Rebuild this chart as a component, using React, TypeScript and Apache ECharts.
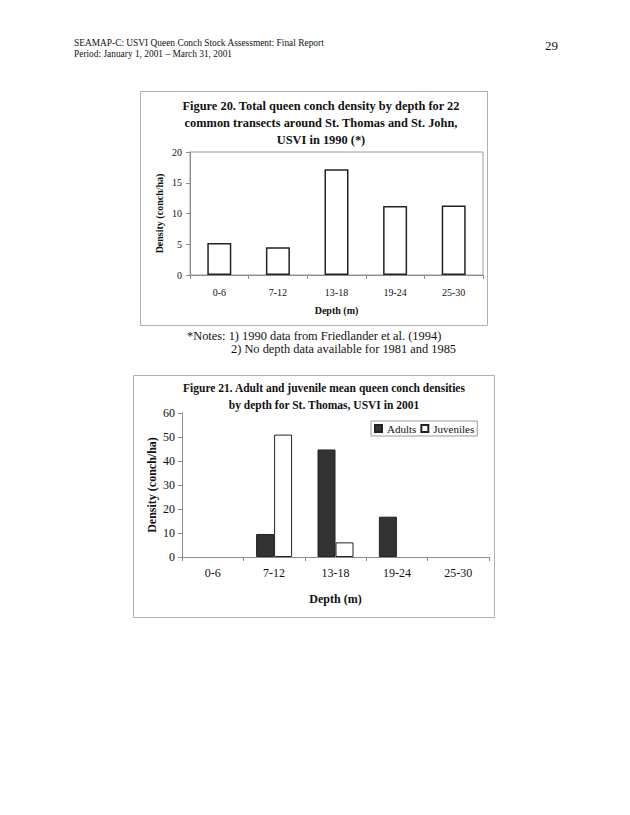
import React, { useEffect, useRef } from "react";
import * as echarts from "echarts";

const depthCategories = ["0-6", "7-12", "13-18", "19-24", "25-30"];
const totalDensity1990 = [5.2, 4.5, 17.2, 11.2, 11.3];
const adults2001 = [0, 9.6, 44.8, 16.8, 0];
const juveniles2001 = [0, 51, 6.1, 0, 0];
const fig20Ticks = { min: 0, max: 20, interval: 5 };
const fig21Ticks = { min: 0, max: 60, interval: 10 };

const headerLine1 = "SEAMAP-C: USVI Queen Conch Stock Assessment: Final Report";
const headerLine2 = "Period: January 1, 2001 \u2013 March 31, 2001";
const pageNumber = "29";
const fig20Title = "Figure 20. Total queen conch density by depth for 22\ncommon transects around St. Thomas and St. John,\nUSVI in 1990 (*)";
const fig21Title = "Figure 21. Adult and juvenile mean queen conch densities\nby depth for St. Thomas, USVI in 2001";
const note1 = "*Notes: 1) 1990 data from Friedlander et al. (1994)";
const note2 = "2) No depth data available for 1981 and 1985";

const SERIF = "'Liberation Serif', 'Times New Roman', serif";

// zero densities are drawn as no bar at all (as in the reference)
const asBars = (vals: number[]) => vals.map((v) => (v === 0 ? "-" : v));

export default function App() {
  const ref = useRef<HTMLDivElement>(null);
  useEffect(() => {
    if (!ref.current) return;
    const chart = echarts.init(ref.current, null, { renderer: "svg" });
    const axisLineColor = "#8c8c8c";
    const text = (t: string, x: number, y: number, size: number, bold = false, align = "left", lineHeight?: number) => ({
      type: "text",
      x,
      y,
      style: {
        text: t,
        font: `${bold ? "bold " : ""}${size}px ${SERIF}`,
        fill: "#111",
        textAlign: align,
        align,
        textVerticalAlign: "middle",
        verticalAlign: "middle",
        lineHeight: lineHeight ?? size + 2,
      },
      silent: true,
    });
    chart.setOption({
      animation: false,
      backgroundColor: "#ffffff",
      textStyle: { fontFamily: SERIF },
      graphic: [
        { type: "rect", shape: { x: 140.5, y: 91.5, width: 347, height: 234 }, style: { fill: "none", stroke: "#b0b0b0", lineWidth: 1 }, silent: true },
        { type: "rect", shape: { x: 133.5, y: 375.5, width: 361, height: 242 }, style: { fill: "none", stroke: "#b0b0b0", lineWidth: 1 }, silent: true },
        text(headerLine1, 74, 43, 9.4),
        text(headerLine2, 74, 54, 9.4),
        text(pageNumber, 545, 45, 13),
        text(note1, 187, 336, 12.4),
        text(note2, 231, 349, 12.4),
        text(fig20Title, 321, 123, 12.4, true, "center", 17),
        text(fig21Title, 324, 396.5, 11.5, true, "center", 17),
      ],
      legend: {
        show: true,
        data: ["Adults", "Juveniles"],
        left: 371,
        top: 421,
        orient: "horizontal",
        icon: "rect",
        itemWidth: 7,
        itemHeight: 7,
        itemGap: 4,
        padding: [2, 3, 2, 3],
        borderColor: "#9a9a9a",
        borderWidth: 1,
        textStyle: { fontFamily: SERIF, fontSize: 11, color: "#111" },
      },
      grid: [
        { left: 190, top: 152, width: 293, height: 123, show: true, borderColor: "#9a9a9a", borderWidth: 1, backgroundColor: "transparent" },
        { left: 182, top: 413, width: 307, height: 144 },
      ],
      xAxis: [
        {
          gridIndex: 0,
          type: "category",
          data: depthCategories,
          axisLine: { lineStyle: { color: axisLineColor } },
          axisTick: { show: true, alignWithLabel: false, length: 4, lineStyle: { color: axisLineColor } },
          axisLabel: { fontFamily: SERIF, fontSize: 10, color: "#111", margin: 12 },
          name: "Depth (m)",
          nameLocation: "middle",
          nameGap: 30,
          nameTextStyle: { fontFamily: SERIF, fontSize: 10, fontWeight: "bold", color: "#111" },
        },
        {
          gridIndex: 1,
          type: "category",
          data: depthCategories,
          axisLine: { lineStyle: { color: axisLineColor } },
          axisTick: { show: true, alignWithLabel: false, length: 4, lineStyle: { color: axisLineColor } },
          axisLabel: { fontFamily: SERIF, fontSize: 12, color: "#111", margin: 10 },
          name: "Depth (m)",
          nameLocation: "middle",
          nameGap: 36,
          nameTextStyle: { fontFamily: SERIF, fontSize: 12, fontWeight: "bold", color: "#111" },
        },
      ],
      yAxis: [
        {
          gridIndex: 0,
          type: "value",
          min: fig20Ticks.min,
          max: fig20Ticks.max,
          interval: fig20Ticks.interval,
          splitLine: { show: false },
          axisLine: { show: true, lineStyle: { color: axisLineColor } },
          axisTick: { show: true, length: 4, lineStyle: { color: axisLineColor } },
          axisLabel: { fontFamily: SERIF, fontSize: 10, color: "#111", margin: 8 },
          name: "Density (conch/ha)",
          nameLocation: "middle",
          nameGap: 26,
          nameTextStyle: { fontFamily: SERIF, fontSize: 10, fontWeight: "bold", color: "#111" },
        },
        {
          gridIndex: 1,
          type: "value",
          min: fig21Ticks.min,
          max: fig21Ticks.max,
          interval: fig21Ticks.interval,
          splitLine: { show: false },
          axisLine: { show: true, lineStyle: { color: axisLineColor } },
          axisTick: { show: true, length: 4, lineStyle: { color: axisLineColor } },
          axisLabel: { fontFamily: SERIF, fontSize: 12, color: "#111", margin: 7 },
          name: "Density (conch/ha)",
          nameLocation: "middle",
          nameGap: 24,
          nameTextStyle: { fontFamily: SERIF, fontSize: 12, fontWeight: "bold", color: "#111" },
        },
      ],
      series: [
        {
          name: "Total density 1990",
          type: "bar",
          xAxisIndex: 0,
          yAxisIndex: 0,
          data: asBars(totalDensity1990),
          barWidth: 24,
          itemStyle: { color: "#ffffff", borderColor: "#222222", borderWidth: 1.5 },
          silent: true,
        },
        {
          name: "Adults",
          type: "bar",
          xAxisIndex: 1,
          yAxisIndex: 1,
          data: asBars(adults2001),
          barWidth: 18,
          barGap: "0%",
          itemStyle: { color: "#333333", borderColor: "#222222", borderWidth: 1 },
          silent: true,
        },
        {
          name: "Juveniles",
          type: "bar",
          xAxisIndex: 1,
          yAxisIndex: 1,
          data: asBars(juveniles2001),
          barWidth: 18,
          barGap: "0%",
          itemStyle: { color: "#ffffff", borderColor: "#222222", borderWidth: 1 },
          silent: true,
        },
      ],
    });
    return () => chart.dispose();
  }, []);
  return (
    <div
      ref={ref}
      style={{ position: "absolute", left: 0, top: 0, width: 630, height: 815, background: "#fff" }}
    />
  );
}
